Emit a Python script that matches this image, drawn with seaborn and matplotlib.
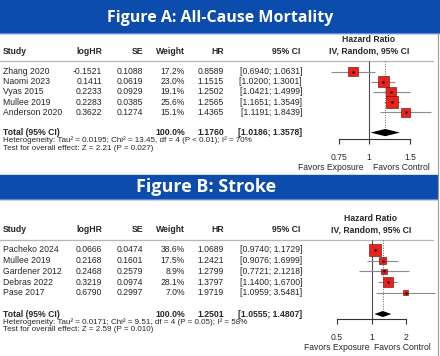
import numpy as np
import pandas as pd
import matplotlib
matplotlib.use("Agg")
import matplotlib.pyplot as plt
from matplotlib.ticker import NullLocator
import seaborn as sns

sns.set_style("white")
plt.rcParams["font.family"] = ["Liberation Sans", "DejaVu Sans"]

# ---- Figure A: all-cause mortality ----
studies_a = ["Zhang 2020", "Naomi 2023", "Vyas 2015", "Mullee 2019", "Anderson 2020"]
loghr_a = [-0.1521, 0.1411, 0.2233, 0.2283, 0.3622]
se_a = [0.1088, 0.0619, 0.0929, 0.0385, 0.1274]
weight_a = [17.2, 23.0, 19.1, 25.6, 15.1]
hr_a = [0.8589, 1.1515, 1.2502, 1.2565, 1.4365]
lo_a = [0.6940, 1.0200, 1.0421, 1.1651, 1.1191]
hi_a = [1.0631, 1.3001, 1.4999, 1.3549, 1.8439]
total_a = [1.1760, 1.0186, 1.3578]
total_weight_a = 100.0
het_a = "Heterogeneity: Tau² = 0.0195; Chi² = 13.45, df = 4 (P < 0.01); I² = 70%"
test_a = "Test for overall effect: Z = 2.21 (P = 0.027)"
ticks_a = [0.75, 1, 1.5]
ticklabels_a = ["0.75", "1", "1.5"]

# ---- Figure B: stroke ----
studies_b = ["Pacheko 2024", "Mullee 2019", "Gardener 2012", "Debras 2022", "Pase 2017"]
loghr_b = [0.0666, 0.2168, 0.2468, 0.3219, 0.6790]
se_b = [0.0474, 0.1601, 0.2579, 0.0974, 0.2997]
weight_b = [38.6, 17.5, 8.9, 28.1, 7.0]
hr_b = [1.0689, 1.2421, 1.2799, 1.3797, 1.9719]
lo_b = [0.9740, 0.9076, 0.7721, 1.1400, 1.0959]
hi_b = [1.1729, 1.6999, 2.1218, 1.6700, 3.5481]
total_b = [1.2501, 1.0555, 1.4807]
total_weight_b = 100.0
het_b = "Heterogeneity: Tau² = 0.0171; Chi² = 9.51, df = 4 (P = 0.05); I² = 58%"
test_b = "Test for overall effect: Z = 2.59 (P = 0.010)"
ticks_b = [0.5, 1, 2]
ticklabels_b = ["0.5", "1", "2"]

W, H = 440, 356
BLUE = "#0b4cad"
fig = plt.figure(figsize=(4.4, 3.56), dpi=100)
renderer = fig.canvas.get_renderer()
bg = fig.add_axes([0, 0, 1, 1])
bg.set_xlim(0, W)
bg.set_ylim(H, 0)
bg.axis("off")

FS = 6.2


def px_axes(x0, y0, x1, y1):
    return fig.add_axes([x0 / W, 1 - y1 / H, (x1 - x0) / W, (y1 - y0) / H])


def fit_width(t, width_px):
    # scale a text so that it spans the given number of pixels
    w = t.get_window_extent(renderer).width
    t.set_fontsize(t.get_fontsize() * width_px / w)


def panel(title, band, title_x, title_w, title_base, studies, loghr, se, weight,
          hr, lo, hi, total, total_w, het, test, ticks, ticklabels, lay):
    # banner
    bg.add_patch(plt.Rectangle((0, band[0]), band[2], band[1] - band[0],
                               color=BLUE, zorder=0))
    bg.plot([0, band[2]], [band[1] - 0.5, band[1] - 0.5], color="#5f8ad0", lw=0.8)
    t = bg.text(title_x, title_base, title, color="white",
                family="Open Sans", weight="bold", fontsize=12,
                ha="center", va="baseline")
    fit_width(t, title_w)

    # header
    hy = lay["head"]
    bg.text(3, hy, "Study", fontsize=FS, weight="bold", va="center")
    for label, x in [("logHR", 102), ("SE", 143), ("Weight", 185),
                     ("HR", 224), ("95% CI", 300)]:
        bg.text(x, hy, label, fontsize=FS, weight="bold", va="center", ha="right")
    bg.text(lay["hx"], hy - 11.3, "Hazard Ratio", fontsize=FS, weight="bold",
            ha="center", va="center")
    bg.text(lay["hx"], hy, "IV, Random, 95% CI", fontsize=FS, weight="bold",
            ha="center", va="center")
    bg.plot([0, 433], [lay["sep"], lay["sep"]], color="#b5b5b5", lw=0.9)

    rows = [lay["row0"] + i * lay["step"] for i in range(len(studies))]
    for y, s, l, e, w, h, a, b in zip(rows, studies, loghr, se, weight, hr, lo, hi):
        bg.text(3, y, s, fontsize=FS, va="center")
        bg.text(102, y, f"{l:.4f}", fontsize=FS, va="center", ha="right")
        bg.text(143, y, f"{e:.4f}", fontsize=FS, va="center", ha="right")
        bg.text(185, y, f"{w:.1f}%", fontsize=FS, va="center", ha="right")
        bg.text(224, y, f"{h:.4f}", fontsize=FS, va="center", ha="right")
        bg.text(302, y, f"[{a:.4f}; {b:.4f}]", fontsize=FS, va="center", ha="right")

    ty = lay["row0"] + 6 * lay["step"]
    bg.text(3, ty, "Total (95% CI)", fontsize=FS, weight="bold", va="center")
    bg.text(185, ty, f"{total_w:.1f}%", fontsize=FS, weight="bold",
            va="center", ha="right")
    bg.text(224, ty, f"{total[0]:.4f}", fontsize=FS, weight="bold",
            va="center", ha="right")
    bg.text(302, ty, f"[{total[1]:.4f}; {total[2]:.4f}]", fontsize=FS,
            weight="bold", va="center", ha="right")
    bg.text(3, ty + 8, het, fontsize=5.8, va="center")
    bg.text(3, ty + 15.5, test, fontsize=5.8, va="center")

    # forest plot on a log axis
    x0, x1 = 318, 437
    y0, y1 = lay["sep"] - 3, lay["axis"] + 35
    ax = px_axes(x0, y0, x1, y1)
    ax.patch.set_alpha(0)
    df = pd.DataFrame({"hr": hr, "lo": lo, "hi": hi, "weight": weight, "y": rows})
    ax.hlines(df["y"], df["lo"], df["hi"], color="#8c8c8c", lw=0.8, zorder=1)
    ax.vlines(1, lay["sep"], lay["axis"], color="#4d4d4d", lw=0.8, zorder=0)
    ax.vlines(total[0], lay["sep"], ty - lay["dh"], color="#666666", lw=0.7,
              linestyles=(0, (1, 1.5)), zorder=0)
    sns.scatterplot(data=df, x="hr", y="y", size="weight", sizes=(0, lay["smax"]),
                    size_norm=(0, 100), marker="s", color="#e8231a",
                    edgecolor="#6b0000", linewidth=0.4, legend=False, ax=ax,
                    zorder=3)
    ax.scatter(df["hr"], df["y"], s=0.5, color="black", zorder=4)
    ax.fill([total[1], total[0], total[2], total[0]],
            [ty, ty - lay["dh"], ty, ty + lay["dh"]], color="black", lw=0, zorder=3)

    ax.set_xscale("log")
    ax.set_xlim(np.exp((x0 - lay["one"]) / lay["scale"]),
                np.exp((x1 - lay["one"]) / lay["scale"]))
    ax.set_ylim(y1, y0)
    ax.xaxis.set_minor_locator(NullLocator())
    ax.set_xticks(ticks)
    ax.set_xticklabels(ticklabels)
    ax.set_yticks([])
    ax.set_xlabel("")
    ax.set_ylabel("")
    for side in ["top", "left", "right"]:
        ax.spines[side].set_visible(False)
    ax.spines["bottom"].set_position(("data", lay["axis"]))
    ax.spines["bottom"].set_bounds(ticks[0], ticks[-1])
    ax.spines["bottom"].set_linewidth(0.8)
    ax.spines["bottom"].set_color("#333333")
    ax.tick_params(axis="x", direction="out", length=3.3, width=0.8,
                   color="#333333", pad=6.5, labelsize=FS, bottom=True)
    fy = lay["axis"] + 28
    ax.text(0.955, fy, "Favors Exposure", fontsize=FS, ha="right", va="center")
    ax.text(1.045, fy, "Favors Control", fontsize=FS, ha="left", va="center")


panel("Figure A: All-Cause Mortality", (0, 33, 440), 220, 227, 21.5, studies_a,
      loghr_a, se_a, weight_a, hr_a, lo_a, hi_a, total_a, total_weight_a, het_a,
      test_a, ticks_a, ticklabels_a,
      dict(head=51, hx=369, sep=60.5, row0=71.7, step=10.15, axis=139.3,
           one=368.7, scale=102, smax=270, dh=3.6))
panel("Figure B: Stroke", (175, 199, 437), 206, 140, 192.5, studies_b, loghr_b,
      se_b, weight_b, hr_b, lo_b, hi_b, total_b, total_weight_b, het_b, test_b,
      ticks_b, ticklabels_b,
      dict(head=229.5, hx=371, sep=239.5, row0=250, step=10.67, axis=319,
           one=371.7, scale=50, smax=165, dh=3.0))

# thin frame on the right edge
bg.plot([437.5, 437.5], [33, H], color="#9a9a9a", lw=0.8)

fig.savefig("out.png", dpi=100)
